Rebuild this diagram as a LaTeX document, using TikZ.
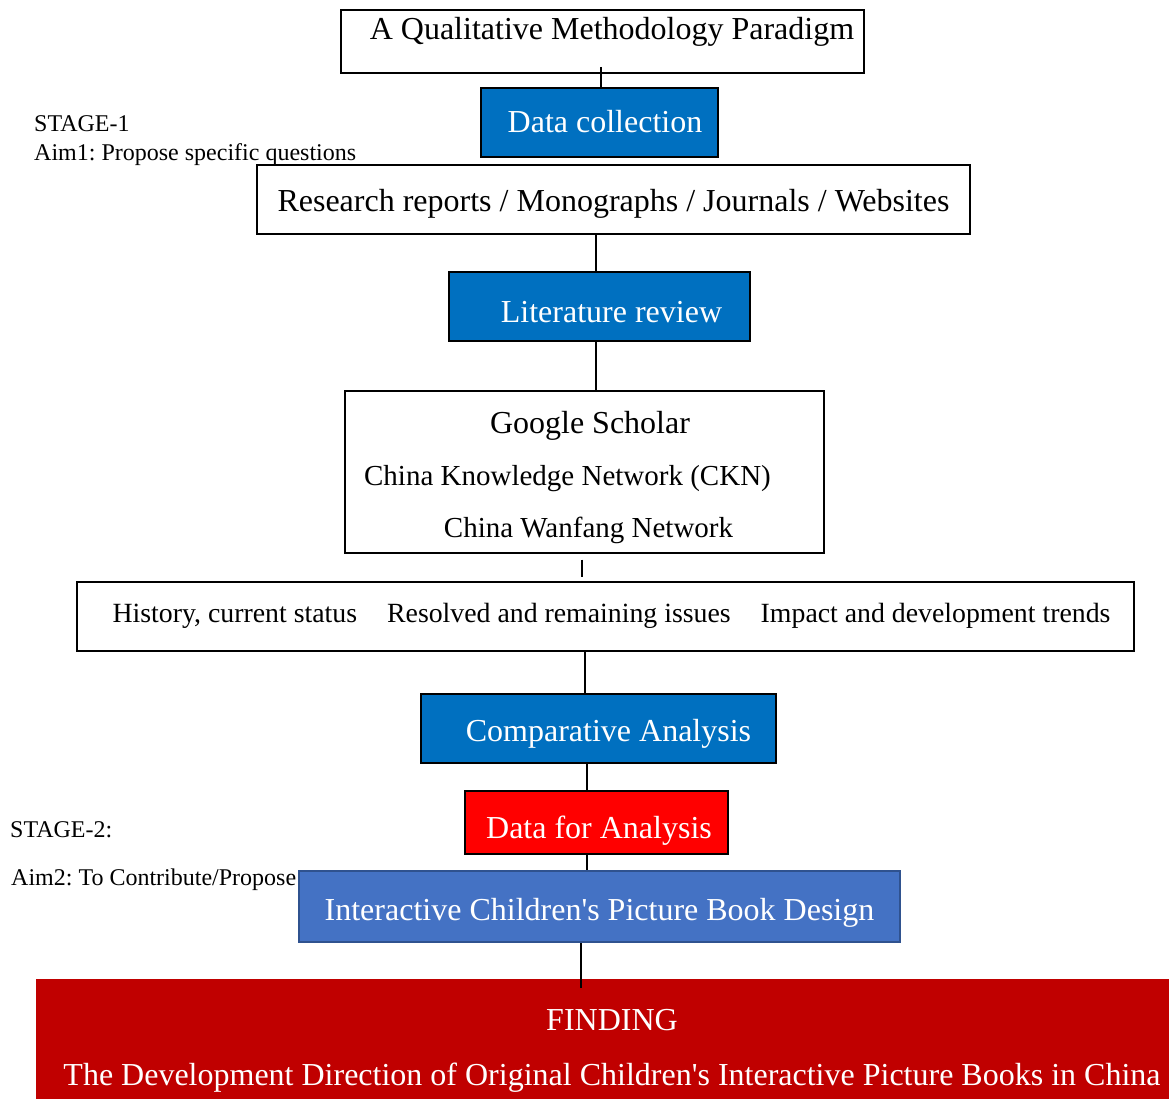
\documentclass[tikz,border=0pt]{standalone}
\usepackage{fontspec}
\setmainfont{Liberation Serif}
\usetikzlibrary{calc}
\definecolor{collectblue}{HTML}{0070C0}
\definecolor{designblue}{HTML}{4472C4}
\definecolor{designedge}{HTML}{2F528F}
\definecolor{findred}{HTML}{C00000}
\frenchspacing

\begin{document}
\begin{tikzpicture}[x=1pt,y=-1pt,
  box/.style={draw,line width=2pt,inner sep=0pt,text height=30pt,text depth=6pt,font=\fontsize{32}{38}\selectfont},
  whitebox/.style={box,fill=white},
  bluebox/.style={box,fill=collectblue,text=white},
  stagetext/.style={anchor=base west,inner sep=0pt,font=\fontsize{24}{28}\selectfont},
  link/.style={line width=2pt}]
  \useasboundingbox (0,0) rectangle (1169,1099);
  % Paradigm
  \node (title) [whitebox,minimum width=523,minimum height=63,text height=24pt,text depth=27pt] at (602.5,41.5) {\hspace*{19pt}A Qualitative Methodology Paradigm};
  % Data collection
  \node (collect) [bluebox,minimum width=237,minimum height=69,text height=26pt] at (599.5,122.5) {\hspace*{11pt}Data collection};
  % Sources
  \node (sources) [whitebox,minimum width=713,minimum height=69] at (613.5,199.5) {Research reports / Monographs / Journals / Websites};
  % Literature review
  \node (review) [bluebox,minimum width=301,minimum height=69,text height=34pt,text depth=3pt] at (599.5,306.5) {\hspace*{24pt}Literature review};
  % Databases
  \node (databases) [whitebox,minimum width=479,minimum height=162,align=center,text height=,text depth=,font=\fontsize{32}{52}\selectfont] at (584.5,471.5)
    {\rule{0pt}{34pt}\hspace*{11pt}Google Scholar\\\fontsize{29}{52}\selectfont\hspace*{-34pt}China Knowledge Network (CKN)\\\fontsize{29}{52}\selectfont\hspace*{8pt}China Wanfang Network};
  % Themes
  \node (themes) [whitebox,minimum width=1057,minimum height=69,text height=22pt,text depth=11pt,font=\fontsize{27.8}{32}\selectfont] at (605.5,616.5)
    {\hspace*{12pt}History, current status\hspace{30pt}Resolved and remaining issues\hspace{30pt}Impact and development trends};
  % Comparative analysis
  \node (compare) [bluebox,minimum width=355,minimum height=69,text depth=5pt] at (598.5,728.5) {\hspace*{20pt}Comparative Analysis};
  % Data for analysis
  \node (analysisdata) [box,fill=red,text=white,minimum width=263,minimum height=63,text height=34pt,text depth=3pt] at (596.5,822.5) {\hspace*{5pt}Data for Analysis};
  % Design
  \node (design) [box,draw=designedge,fill=designblue,text=white,minimum width=601,minimum height=71,text depth=3pt] at (599.5,906.5) {Interactive Children\textquotesingle s Picture Book Design};
  % Finding
  \node (finding) [fill=findred,text=white,inner sep=0pt,minimum width=1152,minimum height=138,align=center,font=\fontsize{32}{55}\selectfont] at (612,1048)
    {\rule{0pt}{26pt}FINDING\\The Development Direction of Original Children\textquotesingle s Interactive Picture Books in China};
  % Stages
  \node (stageone) [stagetext] at (34,132) {STAGE-1};
  \node (aimone) [stagetext] at (34,160.5) {Aim1: Propose specific questions};
  \node (stagetwo) [stagetext] at (10,837) {STAGE-2:};
  \node (aimtwo) [stagetext] at (11,885) {Aim2: To Contribute/Propose};
  % links
  \draw[link] ($(title.south -| 601,0)+(0,-7)$) -- (collect.north -| 601,0);
  \draw[link] (sources.south -| 596,0) -- (review.north -| 596,0);
  \draw[link] (review.south -| 596,0) -- (databases.north -| 596,0);
  \draw[link] ($(databases.south -| 582,0)+(0,6)$) -- ($(themes.north -| 582,0)+(0,-4)$);
  \draw[link] (themes.south -| 585,0) -- (compare.north -| 585,0);
  \draw[link] (compare.south -| 587,0) -- (analysisdata.north -| 587,0);
  \draw[link] (analysisdata.south -| 587,0) -- (design.north -| 587,0);
  \draw[link] (design.south -| 581,0) -- ($(finding.north -| 581,0)+(0,9)$);
\end{tikzpicture}
\end{document}
